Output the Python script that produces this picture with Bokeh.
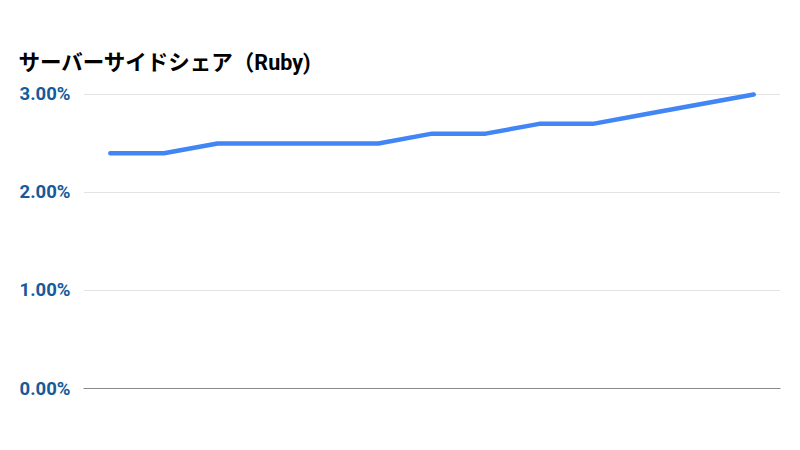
from bokeh.plotting import figure
from bokeh.models import PrintfTickFormatter, FixedTicker, Range1d
from bokeh.embed import file_html
from bokeh.resources import INLINE

title_text = "サーバーサイドシェア（Ruby)"
periods = list(range(13))
ruby_share = [2.4, 2.4, 2.5, 2.5, 2.5, 2.5, 2.6, 2.6, 2.7, 2.7, 2.8, 2.9, 3.0]
y_ticks = [0, 1, 2, 3]

p = figure(width=784, height=434, output_backend="svg", toolbar_location=None,
           x_range=Range1d(-0.5, len(periods) - 0.5), y_range=Range1d(0, 3.03),
           min_border_left=83, min_border_right=4, min_border_top=91, min_border_bottom=46)
p.outline_line_color = None
p.background_fill_color = "white"

p.line(periods, ruby_share, line_color="#4285F4", line_width=4.5, line_join="round", line_cap="round")

p.title.text = title_text
p.title.text_font = "Roboto, 'Noto Sans CJK JP'"
p.title.text_font_size = "21.5px"
p.title.text_font_style = "bold"
p.title.text_color = "#000000"
p.title.align = "left"
p.title.offset = -65
p.title.standoff = 34

p.xaxis.ticker = FixedTicker(ticks=[])
p.xaxis.major_tick_line_color = None
p.xaxis.minor_tick_line_color = None
p.xaxis.axis_line_color = "#8a8a8a"
p.xaxis.axis_line_width = 1.2
p.xgrid.grid_line_color = None

p.yaxis.ticker = FixedTicker(ticks=y_ticks)
p.yaxis.formatter = PrintfTickFormatter(format="%.2f%%")
p.yaxis.axis_line_color = None
p.yaxis.major_tick_line_color = None
p.yaxis.minor_tick_line_color = None
p.yaxis.major_label_standoff = 7
p.yaxis.major_label_text_font = "Roboto"
p.yaxis.major_label_text_font_style = "bold"
p.yaxis.major_label_text_font_size = "18.5px"
p.yaxis.major_label_text_color = "#165a9a"
p.ygrid.grid_line_color = "#e3e3e3"
p.ygrid.grid_line_width = 1

open("out.html", "w").write(file_html(p, INLINE))
